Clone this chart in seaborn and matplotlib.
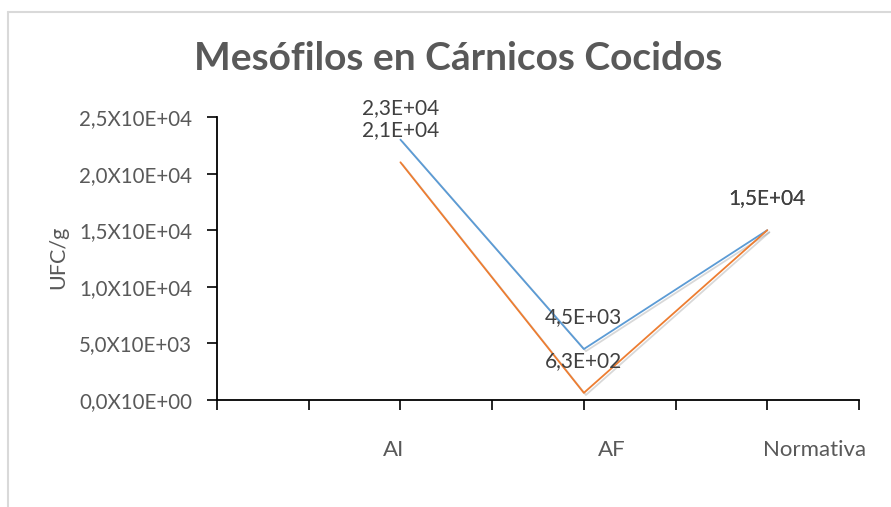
import numpy as np
import pandas as pd
import matplotlib
matplotlib.use("Agg")
import matplotlib.pyplot as plt
import matplotlib.patheffects as pe
from matplotlib.lines import Line2D
import seaborn as sns

# data
categories = ["AI", "AF", "Normativa"]
serie_1 = [23000, 4500, 15000]
serie_2 = [21000, 630, 15000]
y_ticks = [0, 5000, 10000, 15000, 20000, 25000]

sns.set_theme(style="white")
plt.rcParams["font.family"] = ["Lato", "DejaVu Sans"]
gray = "#595959"

slot = {c: 2 + 2 * i for i, c in enumerate(categories)}
df = pd.DataFrame({
    "cat": categories * 2,
    "x": [slot[c] for c in categories] * 2,
    "ufc": serie_1 + serie_2,
    "serie": ["1"] * len(categories) + ["2"] * len(categories),
})

fig = plt.figure(figsize=(8.91, 5.07), dpi=100)
ax = fig.add_axes([217 / 891, 1 - 400 / 507, (859 - 217) / 891, (400 - 117) / 507])

shadow = [pe.SimpleLineShadow(offset=(1.5, -1.5), alpha=0.3, shadow_color="gray"), pe.Normal()]
sns.lineplot(data=df, x="x", y="ufc", hue="serie", palette=["#5B9BD5", "#ED7D31"],
             linewidth=1.3, legend=False, ax=ax, path_effects=shadow)

# data labels above every point
for _, r in df.iterrows():
    txt = f"{r['ufc']:.1E}".replace(".", ",")
    ax.annotate(txt, (r["x"], r["ufc"]), xytext=(0, 32), textcoords="offset pixels",
                ha="center", va="center", fontsize=15, color="#404040")

ax.set_xlim(0, 7)
ax.set_ylim(0, 25000)
ax.set_xticks(range(8))
ax.set_xticklabels([])
ax.set_yticks(y_ticks)


def fmt(v):
    if v == 0:
        return "0,0X10E+00"
    e = int(np.floor(np.log10(v)))
    return f"{v / 10 ** e:.1f}".replace(".", ",") + f"X10E+{e:02d}"


ax.set_yticklabels([fmt(v) for v in y_ticks], fontsize=14.8, color=gray)
ax.tick_params(axis="both", direction="out", length=7, width=1.2, color="black", left=True, bottom=True)
ax.tick_params(axis="y", pad=11)
for s in ["top", "right"]:
    ax.spines[s].set_visible(False)
for s in ["left", "bottom"]:
    ax.spines[s].set_color("black")
    ax.spines[s].set_linewidth(1.3)

# category labels sit off the tick marks like in the source
label_shift = [-0.07, 0.3, 0.52]
for c, d in zip(categories, label_shift):
    ax.text(slot[c] + d, -4400, c, ha="center", va="center", fontsize=16, color=gray, clip_on=False)

ax.set_xlabel("")
ax.set_ylabel("UFC/g", fontsize=15.5, color=gray)
ax.yaxis.set_label_coords(-0.232, 0.505)
fig.text(0.514, 1 - 58 / 507, "Mesófilos en Cárnicos Cocidos", ha="center", va="center",
         fontsize=28, fontweight="bold", color=gray)

# chart area border (top and left edges visible)
fig.add_artist(Line2D([8 / 891, 8 / 891], [0, 1 - 12 / 507], transform=fig.transFigure, color="#d9d9d9", lw=1.5))
fig.add_artist(Line2D([8 / 891, 1], [1 - 12 / 507, 1 - 12 / 507], transform=fig.transFigure, color="#d9d9d9", lw=1.5))

fig.savefig("out.png", dpi=100)
